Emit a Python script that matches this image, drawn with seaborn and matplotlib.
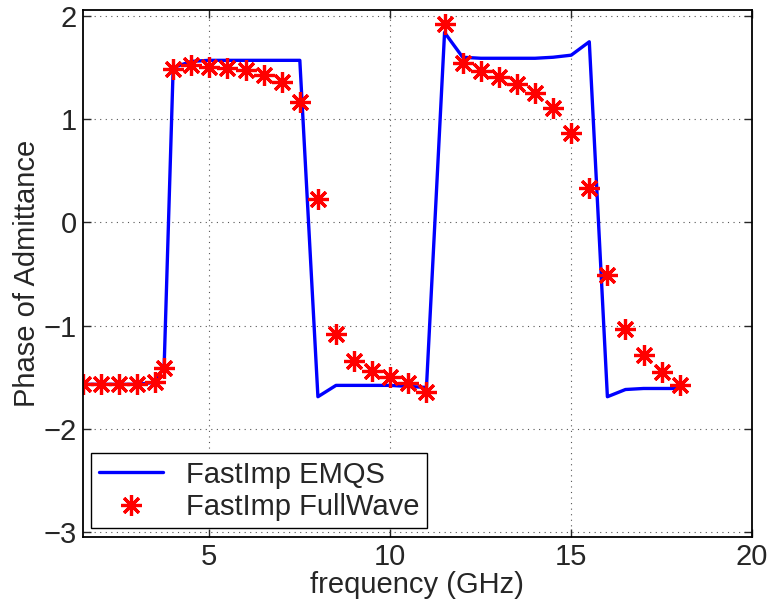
import numpy as np
import pandas as pd
import matplotlib
matplotlib.use('Agg')
import matplotlib.pyplot as plt
import seaborn as sns

# FastImp EMQS (solid line)
emqs_freq = [1.5, 2.0, 2.5, 3.0, 3.5, 3.75, 4.0, 4.5, 5.0, 5.5, 6.0, 6.5, 7.0, 7.5,
             8.0, 8.5, 9.0, 9.5, 10.0, 10.5, 11.0, 11.5, 12.0, 12.5, 13.0, 13.5,
             14.0, 14.5, 15.0, 15.5, 16.0, 16.5, 17.0, 17.5, 18.0]
emqs_phase = [-1.57, -1.57, -1.57, -1.57, -1.55, -1.40, 1.50, 1.56, 1.57, 1.57, 1.57, 1.57, 1.57, 1.57,
              -1.69, -1.58, -1.58, -1.58, -1.58, -1.59, -1.60, 1.84, 1.60, 1.59, 1.59, 1.59,
              1.59, 1.60, 1.62, 1.75, -1.69, -1.62, -1.61, -1.61, -1.61]

# FastImp FullWave (asterisks)
fw_freq = [1.5, 2.0, 2.5, 3.0, 3.5, 3.75, 4.0, 4.5, 5.0, 5.5, 6.0, 6.5, 7.0, 7.5,
           8.0, 8.5, 9.0, 9.5, 10.0, 10.5, 11.0, 11.5, 12.0, 12.5, 13.0, 13.5,
           14.0, 14.5, 15.0, 15.5, 16.0, 16.5, 17.0, 17.5, 18.0]
fw_phase = [-1.57, -1.57, -1.57, -1.57, -1.55, -1.41, 1.49, 1.52, 1.51, 1.50, 1.48, 1.43, 1.36, 1.17,
            0.23, -1.08, -1.34, -1.44, -1.50, -1.56, -1.64, 1.92, 1.54, 1.47, 1.41, 1.34,
            1.25, 1.11, 0.87, 0.33, -0.51, -1.03, -1.29, -1.45, -1.58]

sns.set_style('ticks')
plt.rcParams['font.family'] = ['Liberation Sans', 'DejaVu Sans']
plt.rcParams['xtick.direction'] = 'in'
plt.rcParams['ytick.direction'] = 'in'

fig = plt.figure(figsize=(7.73, 6.11), dpi=100)
ax = fig.add_axes([0.107, 0.121, 0.866, 0.863])

emqs = pd.DataFrame({'f': emqs_freq, 'p': emqs_phase})
fw = pd.DataFrame({'f': fw_freq, 'p': fw_phase})

sns.lineplot(data=emqs, x='f', y='p', ax=ax, color='#0000ff', linewidth=2.4,
             label='FastImp EMQS')
sns.lineplot(data=fw, x='f', y='p', ax=ax, color='#ff0000', linestyle='none',
             marker=(8, 2, 0), markersize=15, markeredgewidth=2.3,
             markeredgecolor='#ff0000', label='FastImp FullWave')

ax.set_xlim(1.5, 20)
ax.set_ylim(-3.05, 2.06)
ax.set_xticks([5, 10, 15, 20])
ax.set_yticks([-3, -2, -1, 0, 1, 2])
ax.set_yticklabels(['\u22123', '\u22122', '\u22121', '0', '1', '2'])
ax.grid(True, color='#555555', linestyle=(0, (1, 4)), linewidth=0.8)
ax.tick_params(labelsize=21, length=6, width=1, top=True, right=True, pad=4)
for s in ax.spines.values():
    s.set_linewidth(1.3)
    s.set_color('black')

ax.set_xlabel('frequency (GHz)', fontsize=21, labelpad=0)
ax.set_ylabel('Phase of Admittance', fontsize=21, labelpad=2)

leg = ax.legend(loc='lower left', fontsize=21, frameon=True, fancybox=False,
                framealpha=1, edgecolor='black', borderaxespad=0.3,
                handlelength=2.2, handletextpad=0.8, borderpad=0.25, labelspacing=0.15)
leg.get_frame().set_linewidth(1.0)

fig.savefig('out.png', dpi=100)
